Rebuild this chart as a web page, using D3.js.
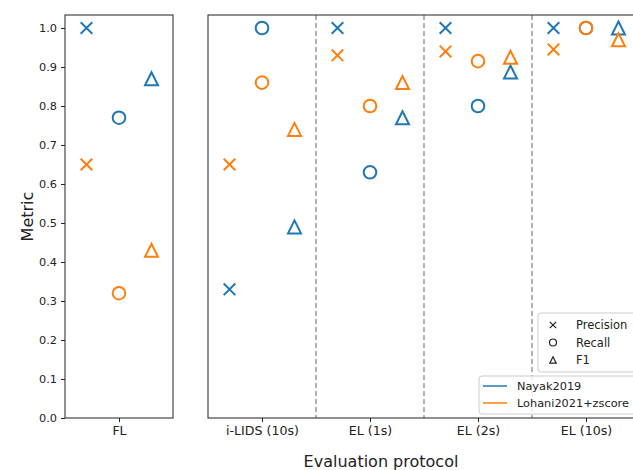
<!DOCTYPE html>
<html>
<head>
<meta charset="utf-8">
<script src="https://cdn.jsdelivr.net/npm/d3@7"></script>
<style>
  body { margin: 0; background: #fff; }
  text { font-family: "DejaVu Sans", sans-serif; fill: #222; }
</style>
</head>
<body>
<svg id="chart" width="633" height="470"></svg>
<script>
// data
const methods = ['Nayak2019', 'Lohani2021+zscore'];
const metrics = ['Precision', 'Recall', 'F1'];
const leftCats = ['FL'];
const rightCats = ['i-LIDS (10s)', 'EL (1s)', 'EL (2s)', 'EL (10s)'];
const yTicks = [0, 0.1, 0.2, 0.3, 0.4, 0.5, 0.6, 0.7, 0.8, 0.9, 1.0];

// values per category: [Precision, Recall, F1]
const nayak = {
  'FL': [1.0, 0.77, 0.87],
  'i-LIDS (10s)': [0.33, 1.0, 0.49],
  'EL (1s)': [1.0, 0.63, 0.77],
  'EL (2s)': [1.0, 0.80, 0.887],
  'EL (10s)': [1.0, 1.0, 1.0]
};
const lohani = {
  'FL': [0.65, 0.32, 0.43],
  'i-LIDS (10s)': [0.65, 0.86, 0.74],
  'EL (1s)': [0.93, 0.80, 0.86],
  'EL (2s)': [0.94, 0.915, 0.925],
  'EL (10s)': [0.945, 1.0, 0.97]
};

const colors = d3.scaleOrdinal().domain(methods).range(['#1f77b4', '#ff7f0e']);

const svg = d3.select('#chart');
const plotTop = 15, plotBottom = 418;

const yScale = d3.scaleLinear().domain([0, 1.0333]).range([plotBottom, plotTop]);
const xLeft = d3.scaleBand().domain(leftCats).range([65, 173]);
const xRight = d3.scaleBand().domain(rightCats).range([208, 640]);
const offset = d3.scalePoint().domain(metrics).range([-32.5, 32.5]);

// marker path for each metric
const markerPath = (metric, s) => {
  if (metric === 'Precision') {
    return `M${-s},${-s}L${s},${s}M${-s},${s}L${s},${-s}`;
  }
  if (metric === 'Recall') {
    return d3.arc()({innerRadius: 0, outerRadius: s, startAngle: 0, endAngle: 2 * Math.PI});
  }
  return `M0,${-s}L${s},${s}L${-s},${s}Z`;
};

function records(cats) {
  const out = [];
  cats.forEach(c => {
    methods.forEach((m, mi) => {
      const vals = mi === 0 ? nayak[c] : lohani[c];
      metrics.forEach((k, ki) => out.push({cat: c, method: m, metric: k, value: vals[ki]}));
    });
  });
  return out;
}

function panel(xScale, cats, showY) {
  const r0 = xScale.range()[0], r1 = xScale.range()[1];
  const g = svg.append('g');

  // dashed separators
  g.selectAll('.sep').data(cats.slice(1)).enter().append('line')
    .attr('x1', d => xScale(d)).attr('x2', d => xScale(d))
    .attr('y1', plotTop).attr('y2', plotBottom)
    .attr('stroke', '#808080').attr('stroke-width', 1.2)
    .attr('stroke-dasharray', '5,3');

  g.selectAll('.pt').data(records(cats)).enter().append('path')
    .attr('transform', d => `translate(${xScale(d.cat) + xScale.bandwidth() / 2 + offset(d.metric)},${yScale(d.value)})`)
    .attr('d', d => markerPath(d.metric, d.metric === 'Recall' ? 6.3 : (d.metric === 'F1' ? 6.5 : 5.8)))
    .attr('fill', 'none')
    .attr('stroke', d => colors(d.method))
    .attr('stroke-width', 2);

  // frame
  g.append('rect')
    .attr('x', r0).attr('y', plotTop)
    .attr('width', r1 - r0).attr('height', plotBottom - plotTop)
    .attr('fill', 'none').attr('stroke', '#222').attr('stroke-width', 1);

  const xAxis = d3.axisBottom(d3.scalePoint().domain(cats)
      .range([r0 + xScale.bandwidth() / 2, r1 - xScale.bandwidth() / 2]))
    .tickSize(4).tickPadding(4);
  const xg = g.append('g').attr('transform', `translate(0,${plotBottom})`).call(xAxis);
  xg.select('.domain').remove();
  xg.selectAll('text').attr('font-size', 12.6).attr('font-family', 'DejaVu Sans, sans-serif').attr('fill', '#222');
  xg.selectAll('line').attr('stroke', '#222');

  if (showY) {
    const yAxis = d3.axisLeft(yScale).tickValues(yTicks).tickFormat(d3.format('.1f'))
      .tickSize(4).tickPadding(4);
    const yg = g.append('g').attr('transform', `translate(${r0},0)`).call(yAxis);
    yg.select('.domain').remove();
    yg.selectAll('text').attr('font-size', 11.3).attr('font-family', 'DejaVu Sans, sans-serif').attr('fill', '#222');
    yg.selectAll('line').attr('stroke', '#222');
  }
}

panel(xLeft, leftCats, true);
panel(xRight, rightCats, false);

// axis labels
svg.append('text')
  .attr('transform', `translate(33,${(plotTop + plotBottom) / 2}) rotate(-90)`)
  .attr('text-anchor', 'middle').attr('font-size', 16).text('Metric');
svg.append('text')
  .attr('x', 381).attr('y', 467)
  .attr('text-anchor', 'middle').attr('font-size', 16).text('Evaluation protocol');

// metric legend
const lg1 = svg.append('g').attr('transform', 'translate(538,313)');
lg1.append('rect').attr('width', 110).attr('height', 59).attr('rx', 3)
  .attr('fill', 'white').attr('fill-opacity', 0.8).attr('stroke', '#ccc');
metrics.forEach((m, i) => {
  lg1.append('path').attr('transform', `translate(15,${12 + i * 17.5})`)
    .attr('d', markerPath(m, m === 'Recall' ? 3.5 : 3.2))
    .attr('fill', 'none').attr('stroke', '#222').attr('stroke-width', 1.2);
  lg1.append('text').attr('x', 38).attr('y', 12 + i * 17.5).attr('dy', '0.35em')
    .attr('font-size', 11.5).text(m);
});

// method legend
const lg2 = svg.append('g').attr('transform', 'translate(479,376)');
lg2.append('rect').attr('width', 170).attr('height', 38).attr('rx', 3)
  .attr('fill', 'white').attr('fill-opacity', 0.8).attr('stroke', '#ccc');
methods.forEach((m, i) => {
  lg2.append('line').attr('x1', 4).attr('x2', 28)
    .attr('y1', 10 + i * 17).attr('y2', 10 + i * 17)
    .attr('stroke', colors(m)).attr('stroke-width', 1.5);
  lg2.append('text').attr('x', 38).attr('y', 10 + i * 17).attr('dy', '0.35em')
    .attr('font-size', 11.3).text(m);
});
</script>
</body>
</html>
